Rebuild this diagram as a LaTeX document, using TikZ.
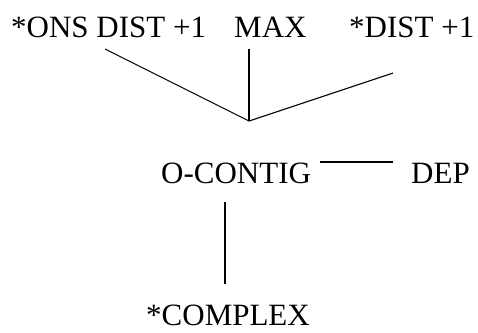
\documentclass[tikz,border=0pt]{standalone}
\usepackage{fontspec}
\setmainfont{Liberation Serif}
\begin{document}
\begin{tikzpicture}[x=1pt,y=-1pt,
  label/.style={inner sep=0pt,anchor=base west,text depth=0pt,font=\fontsize{31}{31}\selectfont},
  link/.style={line width=1.1pt}]
\useasboundingbox (0,0) rectangle (478,332);
% constraint labels
\node[label] (ons)  at (11,37)  {*ONS DIST +1};
\node[label] (max)  at (234,37) {MAX};
\node[label] (dist) at (349,37) {*DIST +1};
\node[label] (ocon) at (161,183) {O-CONTIG};
\node[label] (dep)  at (411,183) {DEP};
\node[label] (cplx) at (146,325) {*COMPLEX};
% connector end points
\coordinate (j)  at (249,121);
\coordinate (a1) at (105,49);
\coordinate (a2) at (249,49);
\coordinate (a3) at (393,73);
\coordinate (h1) at (320,162);
\coordinate (h2) at (393,162);
\coordinate (v1) at (225,202);
\coordinate (v2) at (225,284);
% connectors
\draw[link] (a1) -- (j) -- (a3);
\draw[link] (a2) -- (j);
\draw[link] (h1) -- (h2);
\draw[link] (v1) -- (v2);
\end{tikzpicture}
\end{document}
